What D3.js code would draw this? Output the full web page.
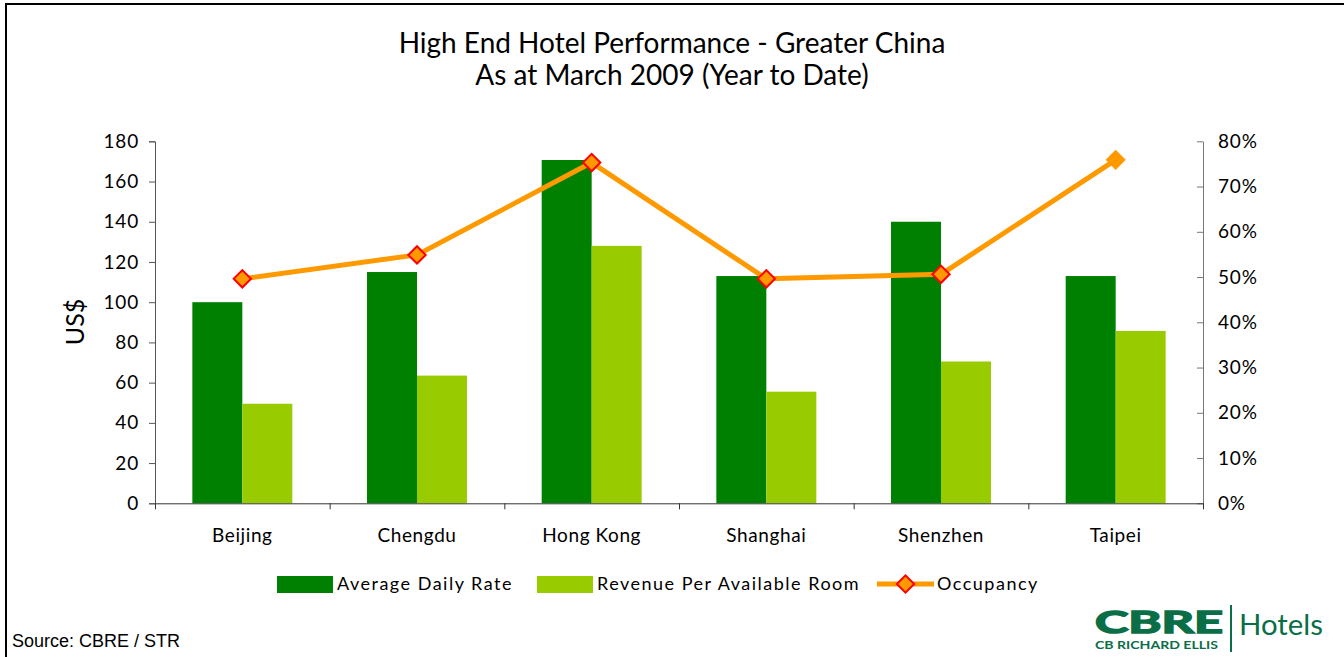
<!DOCTYPE html>
<html>
<head>
<meta charset="utf-8">
<script src="https://cdn.jsdelivr.net/npm/d3@7"></script>
<style>
  body { margin: 0; background: #fff; }
  svg { display: block; }
  text { font-family: Lato, "DejaVu Sans", sans-serif; fill: #000; }
</style>
</head>
<body>
<div id="chart"></div>
<script>
// data
const cities = ['Beijing', 'Chengdu', 'Hong Kong', 'Shanghai', 'Shenzhen', 'Taipei'];
const adr = [100, 115, 170.7, 113, 140, 113];
const revpar = [49.5, 63.5, 128, 55.5, 70.5, 85.7];
const occupancy = [0.496, 0.549, 0.753, 0.496, 0.506, 0.759];
const usdTicks = [0, 20, 40, 60, 80, 100, 120, 140, 160, 180];
const pctTicks = [0, 0.1, 0.2, 0.3, 0.4, 0.5, 0.6, 0.7, 0.8];
const seriesNames = ['Average Daily Rate', 'Revenue Per Available Room', 'Occupancy'];

const W = 1344, H = 657;
const margin = {top: 141.3, right: 141, bottom: 153.7, left: 155};
const width = W - margin.left - margin.right;
const height = H - margin.top - margin.bottom;

const colors = {adr: '#008000', revpar: '#99cc00', occ: '#ff9900', marker: '#ff0000', logo: '#0a6e47'};

const root = d3.select('#chart').append('svg')
    .attr('width', W)
    .attr('height', H);

// frame
root.append('path')
    .attr('d', 'M6,' + H + 'V4H' + W)
    .attr('fill', 'none')
    .attr('stroke', '#000')
    .attr('stroke-width', 2);

// title
const title = root.append('g').attr('text-anchor', 'middle').attr('font-size', 28);
title.append('text').attr('x', W / 2).attr('y', 53).text('High End Hotel Performance - Greater China');
title.append('text').attr('x', W / 2).attr('y', 85).text('As at March 2009 (Year to Date)');

const svg = root.append('g')
    .attr('transform', 'translate(' + margin.left + ',' + margin.top + ')');

// scales
const x0 = d3.scaleBand().domain(cities).range([0, width]);
const x1 = d3.scaleBand().domain(['adr', 'revpar']).range([0, x0.bandwidth()]).paddingOuter(0.747);
const y = d3.scaleLinear().domain([0, 180]).range([height, 0]);
const yR = d3.scaleLinear().domain([0, 0.8]).range([height, 0]);
const xEdge = d3.scaleLinear().domain([0, cities.length]).range([0, width]);

// bars
const groups = svg.selectAll('.city')
    .data(cities)
    .enter().append('g')
    .attr('class', 'city')
    .attr('transform', d => 'translate(' + x0(d) + ',0)');

groups.selectAll('rect')
    .data((d, i) => [{k: 'adr', v: adr[i]}, {k: 'revpar', v: revpar[i]}])
    .enter().append('rect')
    .attr('x', d => x1(d.k))
    .attr('y', d => y(d.v))
    .attr('width', x1.bandwidth())
    .attr('height', d => height - y(d.v))
    .attr('fill', d => colors[d.k]);

// axes
const yAxis = svg.append('g')
    .call(d3.axisLeft(y).tickValues(usdTicks).tickSize(6).tickPadding(10));
yAxis.select('.domain').attr('stroke', '#555');
yAxis.selectAll('.tick line').attr('stroke', '#555');
yAxis.selectAll('text').attr('font-size', 19).attr('letter-spacing', 0.8);

const yRAxis = svg.append('g')
    .attr('transform', 'translate(' + width + ',0)')
    .call(d3.axisRight(yR).tickValues(pctTicks).tickSizeInner(-6).tickSizeOuter(0).tickPadding(15)
        .tickFormat(d3.format('.0%')));
yRAxis.select('.domain').attr('stroke', '#777');
yRAxis.selectAll('.tick line').attr('stroke', '#777');
yRAxis.selectAll('text').attr('font-size', 19).attr('letter-spacing', 0.8);

const xEdges = svg.append('g')
    .attr('transform', 'translate(0,' + height + ')')
    .call(d3.axisBottom(xEdge).ticks(cities.length).tickSize(6).tickSizeOuter(0).tickFormat(''));
xEdges.select('.domain').attr('stroke', '#333');
xEdges.selectAll('.tick line').attr('stroke', '#333');

const xAxis = svg.append('g')
    .attr('transform', 'translate(0,' + height + ')')
    .call(d3.axisBottom(x0).tickSize(0).tickPadding(25));
xAxis.select('.domain').remove();
xAxis.selectAll('text').attr('font-size', 19).attr('letter-spacing', 0.6);

// occupancy line
const line = d3.line()
    .x((d, i) => x0(cities[i]) + x0.bandwidth() / 2)
    .y(d => yR(d));

svg.append('path')
    .datum(occupancy)
    .attr('d', line)
    .attr('fill', 'none')
    .attr('stroke', colors.occ)
    .attr('stroke-width', 5)
    .attr('stroke-linejoin', 'round');

const diamond = d3.symbol().type(d3.symbolSquare).size(150);
svg.selectAll('.marker')
    .data(occupancy)
    .enter().append('path')
    .attr('class', 'marker')
    .attr('d', diamond)
    .attr('transform', (d, i) => 'translate(' + (x0(cities[i]) + x0.bandwidth() / 2) + ',' + yR(d) + ') rotate(45)')
    .attr('fill', colors.occ)
    .attr('stroke', (d, i) => i < occupancy.length - 1 ? colors.marker : colors.occ)
    .attr('stroke-width', 2);

// y label
root.append('text')
    .attr('transform', 'translate(84,322) rotate(-90)')
    .attr('text-anchor', 'middle')
    .attr('font-size', 25)
    .text('US$');

// legend
const legend = root.append('g').attr('font-size', 18).attr('letter-spacing', 1.5);
const legendX = [277, 537, 877];
legend.append('rect').attr('x', legendX[0]).attr('y', 576).attr('width', 56).attr('height', 17).attr('fill', colors.adr);
legend.append('rect').attr('x', legendX[1]).attr('y', 576).attr('width', 56).attr('height', 17).attr('fill', colors.revpar);
legend.append('line').attr('x1', legendX[2]).attr('x2', legendX[2] + 57).attr('y1', 584).attr('y2', 584)
    .attr('stroke', colors.occ).attr('stroke-width', 5);
legend.append('path').attr('d', diamond)
    .attr('transform', 'translate(' + (legendX[2] + 28.5) + ',584) rotate(45)')
    .attr('fill', colors.occ).attr('stroke', colors.marker).attr('stroke-width', 2);
legend.selectAll('.label')
    .data(seriesNames)
    .enter().append('text')
    .attr('class', 'label')
    .attr('x', (d, i) => legendX[i] + 60)
    .attr('y', 590)
    .text(d => d);

// source
root.append('text')
    .attr('x', 12).attr('y', 647)
    .style('font-family', '"Liberation Sans", Arial, sans-serif')
    .attr('font-size', 18)
    .text('Source: CBRE / STR');

// logo
const logo = root.append('g').style('font-family', '"Liberation Sans", Arial, sans-serif');
logo.append('text').attr('x', 1095).attr('y', 633)
    .attr('font-size', 31).attr('font-weight', 'bold')
    .attr('textLength', 128).attr('lengthAdjust', 'spacingAndGlyphs')
    .style('fill', colors.logo).style('stroke', colors.logo).style('stroke-width', 1.5)
    .text('CBRE');
logo.append('text').attr('x', 1095).attr('y', 649)
    .attr('font-size', 11).attr('font-weight', 'bold')
    .attr('textLength', 123).attr('lengthAdjust', 'spacingAndGlyphs')
    .style('fill', colors.logo)
    .text('CB RICHARD ELLIS');
logo.append('line').attr('x1', 1231).attr('x2', 1231).attr('y1', 605).attr('y2', 652)
    .attr('stroke', colors.logo).attr('stroke-width', 2);
logo.append('text').attr('x', 1239).attr('y', 635)
    .attr('font-size', 29)
    .attr('textLength', 84).attr('lengthAdjust', 'spacingAndGlyphs')
    .style('fill', colors.logo)
    .text('Hotels');
</script>
</body>
</html>
